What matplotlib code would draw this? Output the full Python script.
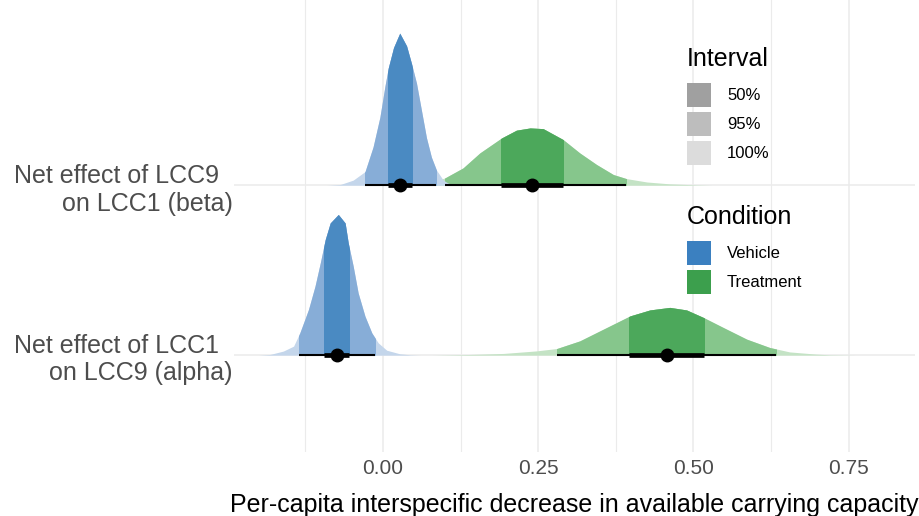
import matplotlib.pyplot as plt
from matplotlib.patches import Rectangle, Patch

plt.rcParams["font.family"] = ["Liberation Sans", "DejaVu Sans"]

# ===== DATA =====

row_labels = ["Net effect of LCC1  \non LCC9 (alpha)", "Net effect of LCC9  \non LCC1 (beta)"]
conditions = ["Vehicle", "Treatment"]
interval_labels = ["50%", "95%", "100%"]

# slab outlines: x value, height (in row units)
beta_vehicle_x = [-0.090, -0.069, -0.048, -0.029, -0.016, -0.005, 0.003, 0.0085, 0.017, 0.027,
                  0.038, 0.046, 0.054, 0.062, 0.070, 0.078, 0.086, 0.097, 0.108, 0.124]
beta_vehicle_h = [0.0, 0.004, 0.03, 0.08, 0.225, 0.40, 0.58, 0.69, 0.81, 0.895,
                  0.82, 0.715, 0.60, 0.44, 0.28, 0.165, 0.09, 0.03, 0.006, 0.0]

beta_treat_x = [0.040, 0.060, 0.080, 0.0998, 0.129, 0.156, 0.191, 0.215, 0.237, 0.258,
                0.290, 0.317, 0.344, 0.371, 0.392, 0.425, 0.462, 0.505, 0.530]
beta_treat_h = [0.0, 0.005, 0.02, 0.043, 0.102, 0.19, 0.278, 0.324, 0.337, 0.333,
                0.269, 0.19, 0.122, 0.063, 0.039, 0.019, 0.008, 0.002, 0.0]

alpha_vehicle_x = [-0.200, -0.182, -0.1605, -0.144, -0.134, -0.120, -0.1095, -0.101, -0.093, -0.085,
                   -0.072, -0.061, -0.056, -0.048, -0.040, -0.029, -0.018, -0.0076, 0.006, 0.027,
                   0.044, 0.060]
alpha_vehicle_h = [0.0, 0.004, 0.024, 0.053, 0.131, 0.269, 0.406, 0.543, 0.681, 0.778,
                   0.828, 0.778, 0.661, 0.524, 0.366, 0.229, 0.131, 0.072, 0.029, 0.008,
                   0.002, 0.0]

alpha_treat_x = [0.080, 0.140, 0.194, 0.2475, 0.280, 0.317, 0.355, 0.398, 0.430, 0.462,
                 0.489, 0.516, 0.548, 0.586, 0.623, 0.655, 0.698, 0.720, 0.760]
alpha_treat_h = [0.0, 0.004, 0.01, 0.025, 0.039, 0.084, 0.153, 0.231, 0.266, 0.281,
                 0.266, 0.222, 0.163, 0.094, 0.045, 0.019, 0.006, 0.002, 0.0]

# point (median) and intervals
beta_vehicle_pt, beta_vehicle_50, beta_vehicle_95 = 0.0274, (0.0085, 0.0462), (-0.029, 0.0853)
beta_treat_pt, beta_treat_50, beta_treat_95 = 0.2405, (0.190, 0.290), (0.0998, 0.391)
alpha_vehicle_pt, alpha_vehicle_50, alpha_vehicle_95 = -0.0746, (-0.095, -0.0543), (-0.1348, -0.0129)
alpha_treat_pt, alpha_treat_50, alpha_treat_95 = 0.4568, (0.3966, 0.5169), (0.2797, 0.6329)

# ===== STYLE =====

shades = {
    "Vehicle": ["#4a8ac2", "#87add7", "#c4d6eb"],
    "Treatment": ["#4ca85b", "#86c68c", "#c4e3c5"],
}
key_colors = {"Vehicle": "#3b80c0", "Treatment": "#3c9f4d"}
interval_greys = ["#a0a0a0", "#bdbdbd", "#dcdcdc"]
GRID = "#ebebeb"

# (row, condition, x, h, point, 50%, 95%) -- treatment first so vehicle sits on top
slabs = [
    (1, "Treatment", alpha_treat_x, alpha_treat_h, alpha_treat_pt, alpha_treat_50, alpha_treat_95),
    (1, "Vehicle", alpha_vehicle_x, alpha_vehicle_h, alpha_vehicle_pt, alpha_vehicle_50, alpha_vehicle_95),
    (2, "Treatment", beta_treat_x, beta_treat_h, beta_treat_pt, beta_treat_50, beta_treat_95),
    (2, "Vehicle", beta_vehicle_x, beta_vehicle_h, beta_vehicle_pt, beta_vehicle_50, beta_vehicle_95),
]

fig = plt.figure(figsize=(9.2, 5.16), dpi=100)
ax = fig.add_axes([234 / 920, 1 - 452 / 516, (915 - 234) / 920, 452 / 516])

for row, cond, xs, hs, pt, i50, i95 in slabs:
    dark, mid, light = shades[cond]
    base = [row] * len(xs)
    top = [row + h for h in hs]
    ax.fill_between(xs, base, top, color=light, lw=0, zorder=2)
    for (lo, hi), col in [(i95, mid), (i50, dark)]:
        poly = ax.fill_between(xs, base, top, color=col, lw=0, zorder=2)
        clip = Rectangle((lo, row), hi - lo, 1.0, transform=ax.transData)
        poly.set_clip_path(clip)

for row, cond, xs, hs, pt, i50, i95 in slabs:
    ax.plot(i95, [row, row], color="black", lw=1.5, solid_capstyle="butt", zorder=4)
    ax.plot(i50, [row, row], color="black", lw=3.4, solid_capstyle="butt", zorder=4)
    ax.plot([pt], [row], "o", color="black", ms=9, zorder=5)

ax.set_xlim(-0.240, 0.857)
ax.set_ylim(0.43, 3.09)
ax.set_xticks([0.0, 0.25, 0.5, 0.75], ["0.00", "0.25", "0.50", "0.75"])
ax.set_xticks([-0.125, 0.125, 0.375, 0.625], minor=True)
ax.set_yticks([1, 2], row_labels)
ax.grid(True, which="major", color=GRID, lw=1.1, zorder=0)
ax.grid(True, which="minor", axis="x", color=GRID, lw=0.8, zorder=0)
ax.set_axisbelow(True)
for s in ax.spines.values():
    s.set_visible(False)
ax.tick_params(which="both", length=0)
ax.tick_params(axis="x", labelsize=15, labelcolor="#4d4d4d", pad=5)
ax.tick_params(axis="y", labelsize=18, labelcolor="#4d4d4d", pad=1)
ax.set_xlabel("Per-capita interspecific decrease in available carrying capacity",
              fontsize=18, color="black", labelpad=11)

leg_kw = dict(
    loc="upper left", frameon=False, fontsize=12, title_fontsize=18, alignment="left",
    handlelength=1.45, handleheight=1.84, labelspacing=0.3, handletextpad=0.95,
    borderpad=0, borderaxespad=0,
)
leg1 = fig.legend(
    handles=[Patch(color=c, lw=0) for c in interval_greys],
    labels=interval_labels, title="Interval",
    bbox_to_anchor=(687 / 920, 1 - 47 / 516), **leg_kw,
)
leg2 = fig.legend(
    handles=[Patch(color=key_colors[c], lw=0) for c in conditions],
    labels=conditions, title="Condition",
    bbox_to_anchor=(687 / 920, 1 - 205 / 516), **leg_kw,
)
# a bit more room between legend title and keys
leg1._legend_box.sep = 8.4
leg2._legend_box.sep = 8.4

fig.savefig("out.png", dpi=100)
